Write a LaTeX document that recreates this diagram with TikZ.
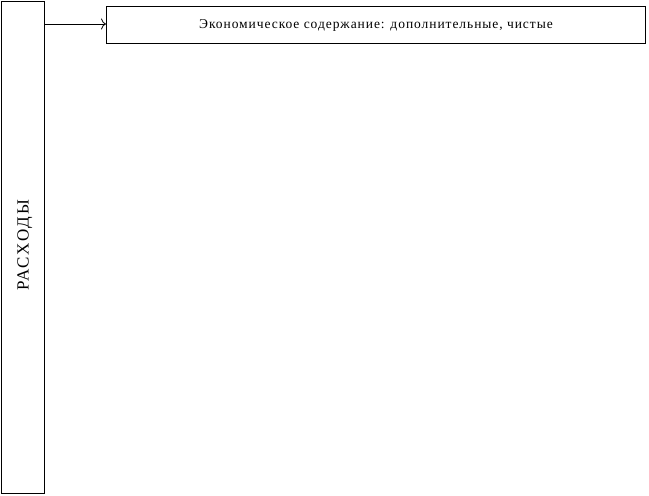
\documentclass[tikz,border=0pt]{standalone}
\usepackage{fontspec}
\usetikzlibrary{arrows.meta}
\setmainfont{Liberation Serif}
\newfontfamily\spacedtop[LetterSpace=7]{Liberation Serif}
\newfontfamily\spacedside[LetterSpace=12]{Liberation Serif}
\tikzset{
  boxline/.style={draw=black, line width=1pt, fill=white},
  conn/.style={draw=black, line width=0.8pt, -{To[length=5pt,width=11pt]}}
}
\begin{document}
\begin{tikzpicture}[x=1pt,y=-1pt]
\useasboundingbox (0,0) rectangle (649,496);
\node[boxline, minimum width=42.5pt, minimum height=492.5pt, inner sep=0pt,
      anchor=north west] (side) at (1,0.5) {};
\node[rotate=90, font=\spacedside\fontsize{17}{20}\selectfont] (sidetext) at ([xshift=2pt,yshift=2pt]side.center) {РАСХОДЫ};
\node[boxline, minimum width=539pt, minimum height=37pt, inner sep=0pt,
      anchor=north west] (top) at (106,6)
      {\spacedtop\fontsize{13.5}{16}\selectfont Экономическое содержание: дополнительные, чистые};
\coordinate (tgt) at ([yshift=1pt]top.west);
\draw[conn] (side.east |- tgt) -- (tgt);
\end{tikzpicture}
\end{document}
